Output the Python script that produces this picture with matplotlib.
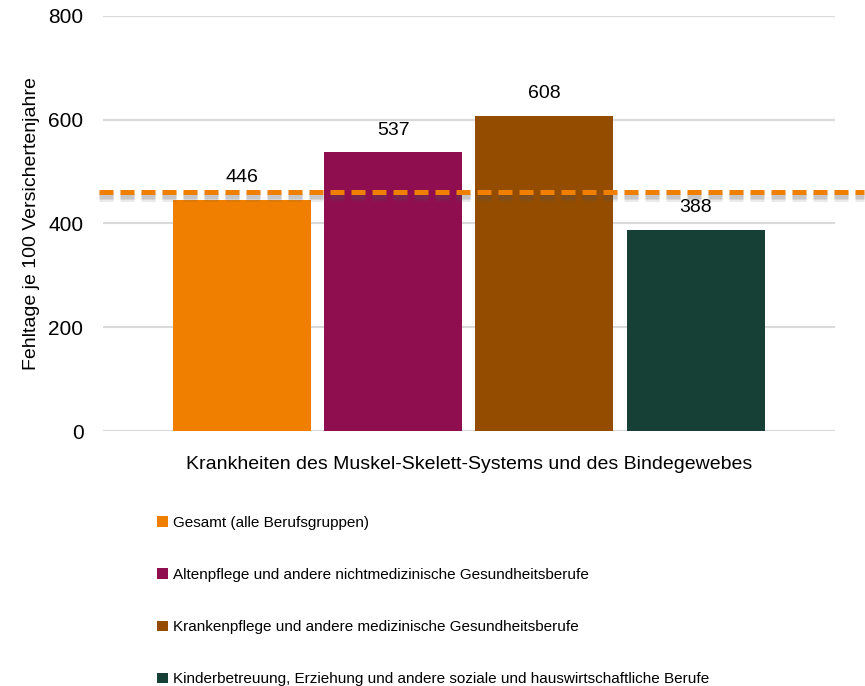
import matplotlib.pyplot as plt
import matplotlib.patheffects as pe
from matplotlib.patches import Patch
from matplotlib import font_manager

names = {f.name for f in font_manager.fontManager.ttflist}
fam = 'Liberation Sans Narrow' if 'Liberation Sans Narrow' in names else 'Liberation Sans'
plt.rcParams['font.family'] = [fam, 'DejaVu Sans']

category = 'Krankheiten des Muskel-Skelett-Systems und des Bindegewebes'
groups = ['Gesamt (alle Berufsgruppen)',
          'Altenpflege und andere nichtmedizinische Gesundheitsberufe',
          'Krankenpflege und andere medizinische Gesundheitsberufe',
          'Kinderbetreuung, Erziehung und andere soziale und hauswirtschaftliche Berufe']
values = [446, 537, 608, 388]
reference = 460
colors = ['#F07F00', '#8E0E50', '#934C00', '#163F36']

fig = plt.figure(figsize=(8.65, 6.86), dpi=100)
ax = fig.add_axes([0.119, 0.3717, 0.846, 0.605])

x = list(range(len(values)))
bars = ax.bar(x, values, width=0.912, color=colors, zorder=2)
for xi, v in zip(x, values):
    ax.annotate(str(v), (xi, v), xytext=(0, 10), textcoords='offset points',
                ha='center', va='bottom', fontsize=14)

ax.set_xlim(-0.92, 3.92)
ax.set_ylim(0, 800)
ax.set_yticks([0, 200, 400, 600, 800])
ax.tick_params(axis='y', length=0, labelsize=15, pad=14)
ax.set_xticks([1.5])
ax.set_xticklabels([category], fontsize=14)
ax.tick_params(axis='x', length=0, pad=18)
ax.grid(axis='y', color='#D9D9D9', linewidth=1.5, zorder=0)
ax.set_axisbelow(True)
for s in ax.spines.values():
    s.set_visible(False)
ax.set_ylabel('Fehltage je 100 Versichertenjahre', fontsize=14, labelpad=6)

# reference line across the full width, soft shadow underneath
shadow = [pe.SimpleLineShadow(offset=(0, -d), shadow_color='#555555', alpha=0.12)
          for d in (1.5, 2.5, 3.5, 4.5)]
ax.axhline(reference, xmin=-0.005, xmax=1.04, color='#F07F00', linewidth=3.6,
           dashes=(2.8, 1.4), clip_on=False, zorder=3,
           path_effects=shadow + [pe.Normal()])

handles = [Patch(facecolor=c, edgecolor='none') for c in colors]
fig.legend(handles, groups, loc='upper left', bbox_to_anchor=(0.175, 0.257),
           frameon=False, fontsize=11, handlelength=0.7, handleheight=0.7,
           handletextpad=0.3, labelspacing=2.5, borderaxespad=0)

fig.savefig('out.png', dpi=100)
